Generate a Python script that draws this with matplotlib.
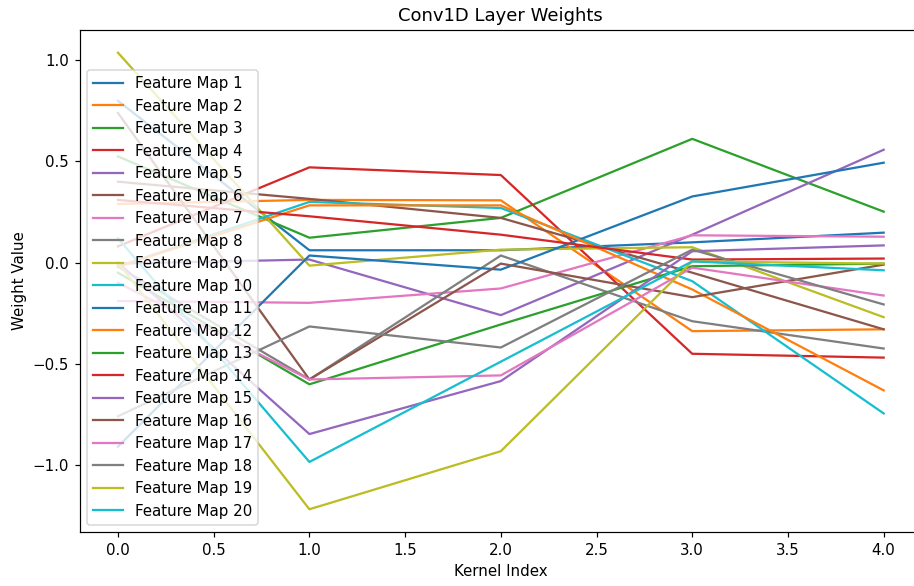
import matplotlib
matplotlib.use('Agg')
import matplotlib.pyplot as plt
import numpy as np

#kernel positions
kernel_index = [0, 1, 2, 3, 4]

#weights of every feature map
fm_1 = [0.80, 0.061, 0.061, 0.10, 0.148]
fm_2 = [0.29, 0.31, 0.308, -0.339, -0.33]
fm_3 = [0.525, 0.123, 0.221, 0.612, 0.252]
fm_4 = [0.08, 0.471, 0.433, -0.451, -0.47]
fm_5 = [-0.005, 0.015, -0.26, 0.138, 0.558]
fm_6 = [0.40, 0.315, 0.221, -0.05, -0.33]
fm_7 = [-0.19, -0.199, -0.128, 0.135, 0.128]
fm_8 = [-0.02, -0.578, 0.035, -0.29, -0.425]
fm_9 = [1.038, -0.015, 0.064, 0.076, -0.27]
fm_10 = [-0.02, 0.30, 0.27, -0.092, -0.746]
fm_11 = [-0.91, 0.035, -0.035, 0.327, 0.494]
fm_12 = [-0.02, 0.283, 0.283, -0.133, -0.632]
fm_13 = [-0.05, -0.602, -0.306, -0.018, -0.005]
fm_14 = [0.31, 0.229, 0.138, 0.015, 0.02]
fm_15 = [0.0, -0.848, -0.586, 0.056, 0.085]
fm_16 = [0.74, -0.578, -0.005, -0.171, -0.01]
fm_17 = [-0.1, -0.578, -0.558, -0.025, -0.163]
fm_18 = [-0.76, -0.316, -0.42, 0.064, -0.207]
fm_19 = [0.0, -1.22, -0.933, 0.006, -0.005]
fm_20 = [0.12, -0.986, -0.49, 0.006, -0.038]

feature_maps = [fm_1, fm_2, fm_3, fm_4, fm_5, fm_6, fm_7, fm_8, fm_9, fm_10,
                fm_11, fm_12, fm_13, fm_14, fm_15, fm_16, fm_17, fm_18, fm_19, fm_20]
labels = ['Feature Map %d' % (i + 1) for i in range(len(feature_maps))]

#reference looks rendered a little larger than 100 dpi
dpi = 108
fig, ax = plt.subplots(figsize=(914 / dpi, 586 / dpi), dpi=dpi)
fig.subplots_adjust(left=0.0872, right=1.0087, top=0.949, bottom=0.092)

#one line per feature map
for values, label in zip(feature_maps, labels):
    ax.plot(kernel_index, np.array(values), label=label)

#labels and legend
ax.set_title('Conv1D Layer Weights')
ax.set_xlabel('Kernel Index')
ax.set_ylabel('Weight Value')
ax.legend(loc='lower left')

fig.savefig('out.png', dpi=dpi)
plt.close('all')
